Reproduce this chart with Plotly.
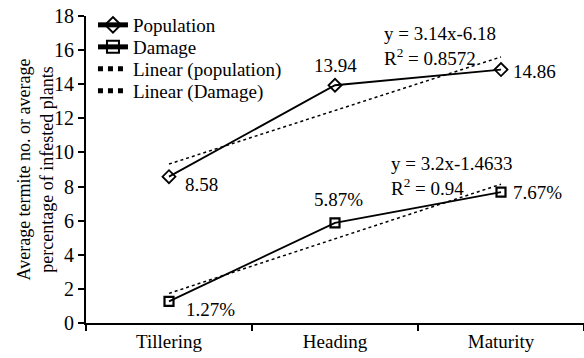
import numpy as np
import plotly.graph_objects as go

stages = ["Tillering", "Heading", "Maturity"]
population = [8.58, 13.94, 14.86]
damage = [1.27, 5.87, 7.67]
population_labels = ["8.58", "13.94", "14.86"]
damage_labels = ["1.27%", "5.87%", "7.67%"]
y_ticks = [0, 2, 4, 6, 8, 10, 12, 14, 16, 18]
pop_eq = ["y = 3.14x-6.18", "R<sup>2</sup> = 0.8572"]
dam_eq = ["y = 3.2x-1.4633", "R<sup>2</sup> = 0.94"]
y_title = ["Average termite no. or average", "percentage of infested plants"]

xi = np.arange(1, len(stages) + 1)
pop_fit = np.polyval(np.polyfit(xi, population, 1), xi)
dam_fit = np.polyval(np.polyfit(xi, damage, 1), xi)

FONT = "Liberation Serif"
FS = 19
fig = go.Figure()

fig.add_trace(go.Scatter(x=stages, y=population, name="Population", mode="lines+markers",
                         legend="legend",
                         line=dict(color="black", width=1.8),
                         marker=dict(symbol="diamond-open", size=10, color="black", line=dict(width=1.8))))
fig.add_trace(go.Scatter(x=stages, y=damage, name="Damage", mode="lines+markers",
                         legend="legend2",
                         line=dict(color="black", width=1.8),
                         marker=dict(symbol="square-open", size=9, color="black", line=dict(width=2.2))))
fig.add_trace(go.Scatter(x=stages, y=pop_fit, name="Linear (population)", mode="lines",
                         legend="legend3",
                         line=dict(color="black", width=1.5, dash="dot")))
fig.add_trace(go.Scatter(x=stages, y=dam_fit, name="Linear (Damage)", mode="lines",
                         legend="legend4",
                         line=dict(color="black", width=1.5, dash="dot")))

# data labels: (xanchor, xshift, yshift) per point
pop_pos = [("left", 14, -8), ("center", 0, 20), ("left", 10, -2)]
dam_pos = [("left", 15, -8), ("center", 3, 23), ("left", 10, 0)]
for vals, labels, pos in [(population, population_labels, pop_pos), (damage, damage_labels, dam_pos)]:
    for s, v, t, (xa, xs, ys) in zip(stages, vals, labels, pos):
        fig.add_annotation(x=s, y=v, text=t, showarrow=False, xanchor=xa, yanchor="middle",
                           xshift=xs, yshift=ys, font=dict(family=FONT, size=FS, color="black"))

fig.add_annotation(x=0.594, xref="paper", y=16.24, yref="y", text="<br>".join(pop_eq), showarrow=False,
                   xanchor="left", yanchor="middle", align="left",
                   font=dict(family=FONT, size=FS, color="black"))
fig.add_annotation(x=0.608, xref="paper", y=8.62, yref="y", text="<br>".join(dam_eq), showarrow=False,
                   xanchor="left", yanchor="middle", align="left",
                   font=dict(family=FONT, size=FS, color="black"))
fig.add_annotation(x=-0.1024, xref="paper", y=0.5, yref="paper", text="<br>".join(y_title),
                   showarrow=False, textangle=-90, xanchor="center", yanchor="middle",
                   font=dict(family=FONT, size=18, color="black"))

def leg(yc):
    return dict(x=0.014, y=yc, xanchor="left", yanchor="middle", bgcolor="rgba(255,255,255,0)",
                font=dict(family=FONT, size=FS, color="black"), itemsizing="constant")

fig.update_layout(
    width=584, height=358,
    margin=dict(l=86, r=0, t=16, b=35, autoexpand=False),
    paper_bgcolor="white", plot_bgcolor="white",
    font=dict(family=FONT, size=FS, color="black"),
    showlegend=True,
    legend=leg(0.9707), legend2=leg(0.899), legend3=leg(0.8274), legend4=leg(0.7557),
    xaxis=dict(type="category", range=[-0.5, 2.5], showline=True, linecolor="black", linewidth=2,
               ticks="outside", tickson="boundaries", ticklen=6, tickwidth=2, tickcolor="black",
               showgrid=False, zeroline=False, automargin=False,
               tickfont=dict(family=FONT, size=FS, color="black")),
    yaxis=dict(range=[0, 18], tickvals=y_ticks, showline=True, linecolor="black", linewidth=2,
               ticks="outside", ticklen=6, tickwidth=2, tickcolor="black", showgrid=False,
               zeroline=False, automargin=False, tickfont=dict(family=FONT, size=FS + 1, color="black")),
)

fig.write_html("out.html", config={"displayModeBar": False},
               post_script="document.body.style.margin='0';")
